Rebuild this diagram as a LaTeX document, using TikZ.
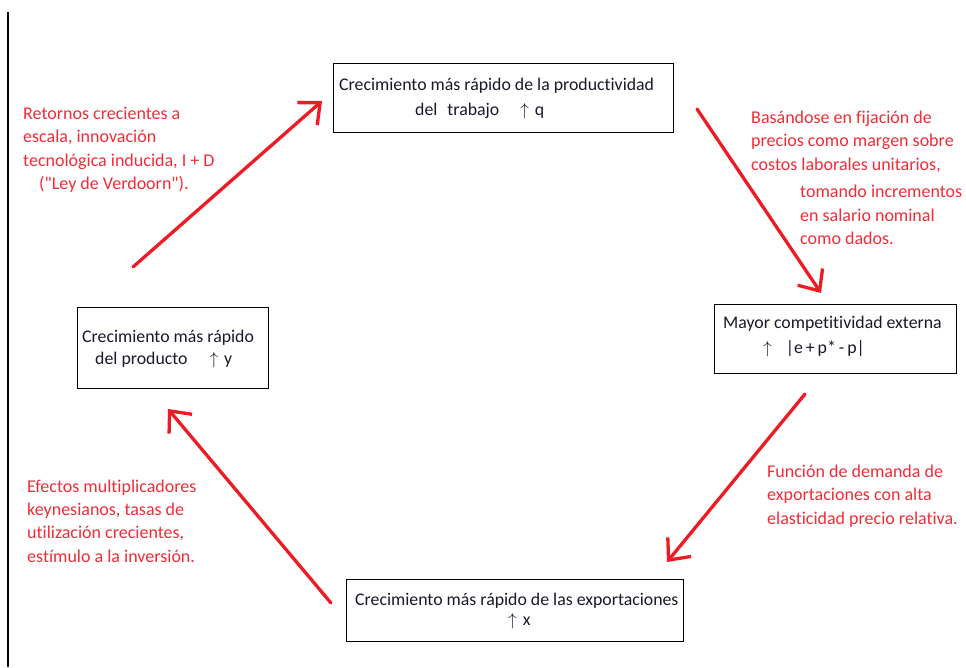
\documentclass[tikz,border=0pt]{standalone}
\usepackage{fontspec}
\setmainfont{Carlito}[Ligatures={TeXOff,CommonOff}]
\usetikzlibrary{arrows.meta}
\definecolor{arrowred}{RGB}{237,28,36}
\definecolor{notered}{RGB}{240,45,55}
\definecolor{boxtext}{RGB}{25,25,40}
\tikzset{
  stagebox/.style={draw=black, line width=1.1pt, inner sep=0pt, anchor=north west},
  blackline/.style={anchor=base west, inner sep=0pt, text=boxtext, font=\fontsize{17.8}{21}\selectfont},
  redline/.style={anchor=base west, inner sep=0pt, text=notered, font=\fontsize{18}{22}\selectfont},
  flowarrow/.style={draw=arrowred, line width=3.3pt, line cap=round, -{Straight Barb[length=17pt,width=30pt]}},
}
\begin{document}
\begin{tikzpicture}[x=1pt,y=-1pt]
\useasboundingbox (0,0) rectangle (966,667);
\fill[white] (0,0) rectangle (966,667);
% left margin rule
\coordinate (ruletop) at (8,12);
\coordinate (rulebot) at (8,667);
\draw[line width=1.3pt, black] (ruletop) -- (rulebot);

% boxes
\node[stagebox, minimum width=340pt, minimum height=69pt] (q) at (333,63) {};
\node[stagebox, minimum width=242pt, minimum height=69pt] (comp) at (714,304) {};
\node[stagebox, minimum width=191pt, minimum height=81pt] (y) at (77,307) {};
\node[stagebox, minimum width=337pt, minimum height=62pt] (x) at (346,579) {};

% box texts
\node[blackline] (q1) at (339,90) {Crecimiento más rápido de la productividad};
\node[blackline] (q2) at (415,115) {del\hspace{10pt}trabajo\hspace{21pt}$\uparrow$\hspace{6pt}q};
\node[blackline] (c1) at (723,328) {Mayor competitividad externa};
\node[blackline] (c2) at (763,353) {$\uparrow$\hspace{14pt}|e\,+\,p*\,-\,p|};
\node[blackline] (y1) at (82,342) {Crecimiento más rápido};
\node[blackline] (y2) at (95,364) {del producto\hspace{22pt}$\uparrow$\hspace{6pt}y};
\node[blackline] (x1) at (355,605) {Crecimiento más rápido de las exportaciones};
\node[blackline] (x2) at (508,625) {$\uparrow$\hspace{6pt}x};

% red notes
\node[redline] (ra) at (23,119) {Retornos crecientes a};
\node[redline] (rb) at (23,142) {escala, innovación};
\node[redline] (rc) at (23,166) {tecnológica inducida, I + D};
\node[redline] (rd) at (39,189) {("Ley de Verdoorn").};

\node[redline] (sa) at (751,123) {Basándose en fijación de};
\node[redline] (sb) at (751,146) {precios como margen sobre};
\node[redline] (sc) at (751,170) {costos laborales unitarios,};
\node[redline] (sd) at (800,197) {tomando incrementos};
\node[redline] (se) at (800,221) {en salario nominal};
\node[redline] (sf) at (800,244) {como dados.};

\node[redline] (ta) at (767,477) {Función de demanda de};
\node[redline] (tb) at (767,500) {exportaciones con alta};
\node[redline] (tc) at (767,524) {elasticidad precio relativa.};

\node[redline] (ua) at (27,492) {Efectos multiplicadores};
\node[redline] (ub) at (27,515) {keynesianos, tasas de};
\node[redline] (uc) at (27,538) {utilización crecientes,};
\node[redline] (ud) at (27,562) {estímulo a la inversión.};

% arrow end points
\coordinate (a1s) at (133,267);
\coordinate (a1e) at (322,101);
\coordinate (a2s) at (697,109);
\coordinate (a2e) at (821,293);
\coordinate (a3s) at (805,394);
\coordinate (a3e) at (667,562);
\coordinate (a4s) at (331,603);
\coordinate (a4e) at (168,409);

\draw[flowarrow] (a1s) -- (a1e);
\draw[flowarrow] (a2s) -- (a2e);
\draw[flowarrow] (a3s) -- (a3e);
\draw[flowarrow] (a4s) -- (a4e);
\end{tikzpicture}
\end{document}
